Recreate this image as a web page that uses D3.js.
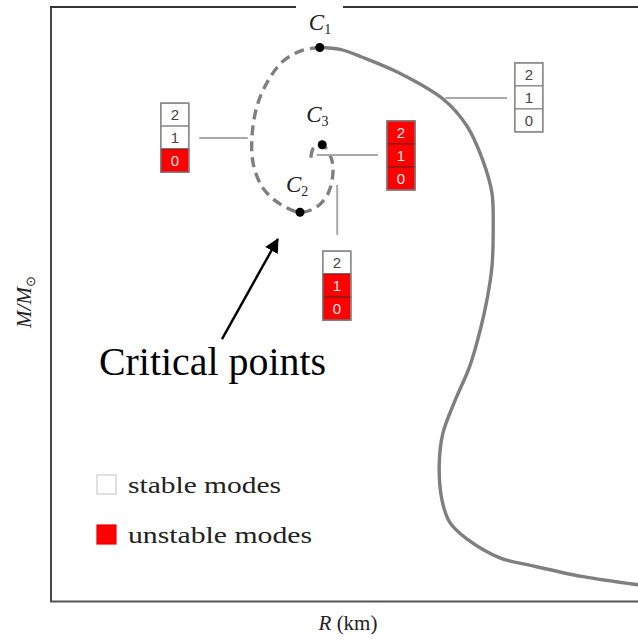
<!DOCTYPE html>
<html><head><meta charset="utf-8">
<script src="https://cdn.jsdelivr.net/npm/d3@7"></script>
<style>html,body{margin:0;padding:0;background:#fff;}svg{display:block;}</style>
</head><body>
<script>
// ---- data (schematic units: R in km, M in solar masses) ----
const stableBranchR = [10.48,10.82,11.20,11.82,12.53,12.93,13.20,13.35,13.37,13.35,13.27,13.15,12.98,12.73,12.53,12.47,12.52,12.65,12.93,13.48,14.03,14.87,15.78,16.15];
const stableBranchM = [2.05,2.043,2.013,1.954,1.86,1.76,1.63,1.51,1.39,1.24,1.12,1.00,0.87,0.74,0.62,0.50,0.37,0.29,0.23,0.16,0.13,0.09,0.06,0.05];
const unstableBranchR = [10.48,10.20,9.87,9.60,9.43,9.35,9.37,9.53,9.82,10.15,10.43,10.62,10.70,10.67,10.52,10.38,10.33];
const unstableBranchM = [2.05,2.04,2.00,1.92,1.83,1.72,1.62,1.53,1.47,1.44,1.46,1.51,1.59,1.64,1.69,1.68,1.64];
const criticalNames = ["1","2","3"];
const criticalR = [10.48,10.15,10.52];
const criticalM = [2.05,1.44,1.69];
const modeLabels = ["2","1","0"];
// stability of modes [2,1,0] per branch segment: 0 = stable, 1 = unstable
const modeStates = [[0,0,1],[1,1,1],[0,1,1],[0,0,0]];
const legendLabels = ["stable modes","unstable modes"];

const W = 638, H = 643;
const svg = d3.select("body").append("svg").attr("width", W).attr("height", H);
const x = d3.scaleLinear().domain([6, 16]).range([51, 651]);
const y = d3.scaleLinear().domain([0, 2.2]).range([601, 7]);

// frame
const frame = svg.append("g").attr("stroke", "#333").attr("stroke-width", 1.8).attr("fill", "none");
frame.append("line").attr("x1", 51).attr("x2", 51).attr("y1", 7).attr("y2", 602);
frame.append("line").attr("x1", 50).attr("x2", 296).attr("y1", 7).attr("y2", 7);
frame.append("line").attr("x1", 343).attr("x2", 640).attr("y1", 7).attr("y2", 7);
frame.append("line").attr("x1", 50).attr("x2", 640).attr("y1", 601.5).attr("y2", 601.5).attr("stroke", "#555").attr("stroke-width", 2.2);

// curves
const line = d3.line().x(d => x(d[0])).y(d => y(d[1])).curve(d3.curveCatmullRom.alpha(0.5));
svg.append("path").datum(d3.zip(stableBranchR, stableBranchM))
  .attr("d", line).attr("fill", "none").attr("stroke", "#7f7f7f").attr("stroke-width", 3.4);
svg.append("path").datum(d3.zip(unstableBranchR, unstableBranchM))
  .attr("d", line).attr("fill", "none").attr("stroke", "#7f7f7f").attr("stroke-width", 3.4)
  .attr("stroke-dasharray", "10,6");

// leader lines (anchor on curve -> box)
const leaders = [[[8.47,1.715],[9.28,1.715]],[[10.43,1.652],[11.45,1.652]],[[10.77,1.541],[10.77,1.356]],[[12.57,1.863],[13.6,1.863]]];
const leadG = svg.append("g").attr("stroke", "#a8a8a8").attr("stroke-width", 2);
leaders.forEach(l => leadG.append("line")
  .attr("x1", x(l[0][0])).attr("y1", y(l[0][1])).attr("x2", x(l[1][0])).attr("y2", y(l[1][1])));

// critical point dots and labels
const labOff = [[0,-18],[-3,-20],[-5,-23]];
criticalR.forEach((r, i) => {
  svg.append("circle").attr("cx", x(r)).attr("cy", y(criticalM[i])).attr("r", 4.5).attr("fill", "#000");
  const t = svg.append("text").attr("x", x(r) + labOff[i][0] - 11).attr("y", y(criticalM[i]) + labOff[i][1])
    .attr("font-family", "Liberation Serif, serif").attr("font-size", 23).attr("fill", "#222");
  t.append("tspan").attr("font-style", "italic").text("C");
  t.append("tspan").attr("font-size", 14).attr("dy", 4).text(criticalNames[i]);
});

// mode boxes (top-left anchor in data units)
const boxAnchors = [[7.83,1.844],[11.6,1.778],[10.53,1.296],[13.73,1.993]];
const cw = 28, ch = 23;
modeStates.forEach((st, b) => {
  const g = svg.append("g").attr("transform", `translate(${x(boxAnchors[b][0])},${y(boxAnchors[b][1])})`);
  st.forEach((u, k) => {
    g.append("rect").attr("x", 0).attr("y", k * ch).attr("width", cw).attr("height", ch)
      .attr("fill", u ? "#ff0000" : "#fff").attr("stroke", u ? "#8a1a1a" : "#8a8a8a").attr("stroke-width", 1.3);
    g.append("text").attr("x", cw / 2).attr("y", k * ch + 17).attr("text-anchor", "middle")
      .attr("font-family", "Liberation Sans, Arial, sans-serif").attr("font-size", 15)
      .attr("fill", u ? "#ffe6e6" : "#444").text(modeLabels[k]);
  });
  g.append("rect").attr("width", cw).attr("height", ch * 3).attr("fill", "none").attr("stroke", "#888").attr("stroke-width", 1.3);
});

// arrow + annotation
svg.append("defs").append("marker").attr("id", "ah").attr("viewBox", "0 0 10 10").attr("refX", 9).attr("refY", 5)
  .attr("markerWidth", 6).attr("markerHeight", 6).attr("orient", "auto")
  .append("path").attr("d", "M0,0 L10,5 L0,10 z").attr("fill", "#000");
svg.append("line").attr("x1", x(8.85)).attr("y1", y(0.97)).attr("x2", x(9.78)).attr("y2", y(1.34))
  .attr("stroke", "#000").attr("stroke-width", 2.4).attr("marker-end", "url(#ah)");
svg.append("text").attr("x", 99).attr("y", 375).attr("font-family", "Liberation Serif, serif")
  .attr("font-size", 41).attr("fill", "#000").attr("textLength", 227).attr("lengthAdjust", "spacingAndGlyphs").text("Critical points");

// legend
const legY = [485, 535];
legendLabels.forEach((lab, i) => {
  svg.append("rect").attr("x", 97).attr("y", legY[i] - 10).attr("width", 19).attr("height", 19)
    .attr("fill", i ? "#ff0000" : "#fff").attr("stroke", i ? "#e00" : "#ccc").attr("stroke-width", 1.2);
  svg.append("text").attr("x", 128).attr("y", legY[i] + 8).attr("font-family", "Liberation Serif, serif")
    .attr("font-size", 24).attr("fill", "#222").attr("textLength", i ? 184 : 153).attr("lengthAdjust", "spacingAndGlyphs").text(lab);
});

// axis labels
const xl = svg.append("text").attr("x", 348).attr("y", 630).attr("text-anchor", "middle")
  .attr("font-family", "Liberation Serif, serif").attr("font-size", 21).attr("fill", "#222");
xl.append("tspan").attr("font-style", "italic").text("R");
xl.append("tspan").text(" (km)");
const yl = svg.append("text").attr("transform", "translate(31,302) rotate(-90)").attr("text-anchor", "middle")
  .attr("font-family", "Liberation Serif, serif").attr("font-size", 21).attr("fill", "#222");
yl.append("tspan").attr("font-style", "italic").text("M/M");
yl.append("tspan").attr("font-size", 13).attr("dy", 4).text("⊙");
</script>
</body></html>
